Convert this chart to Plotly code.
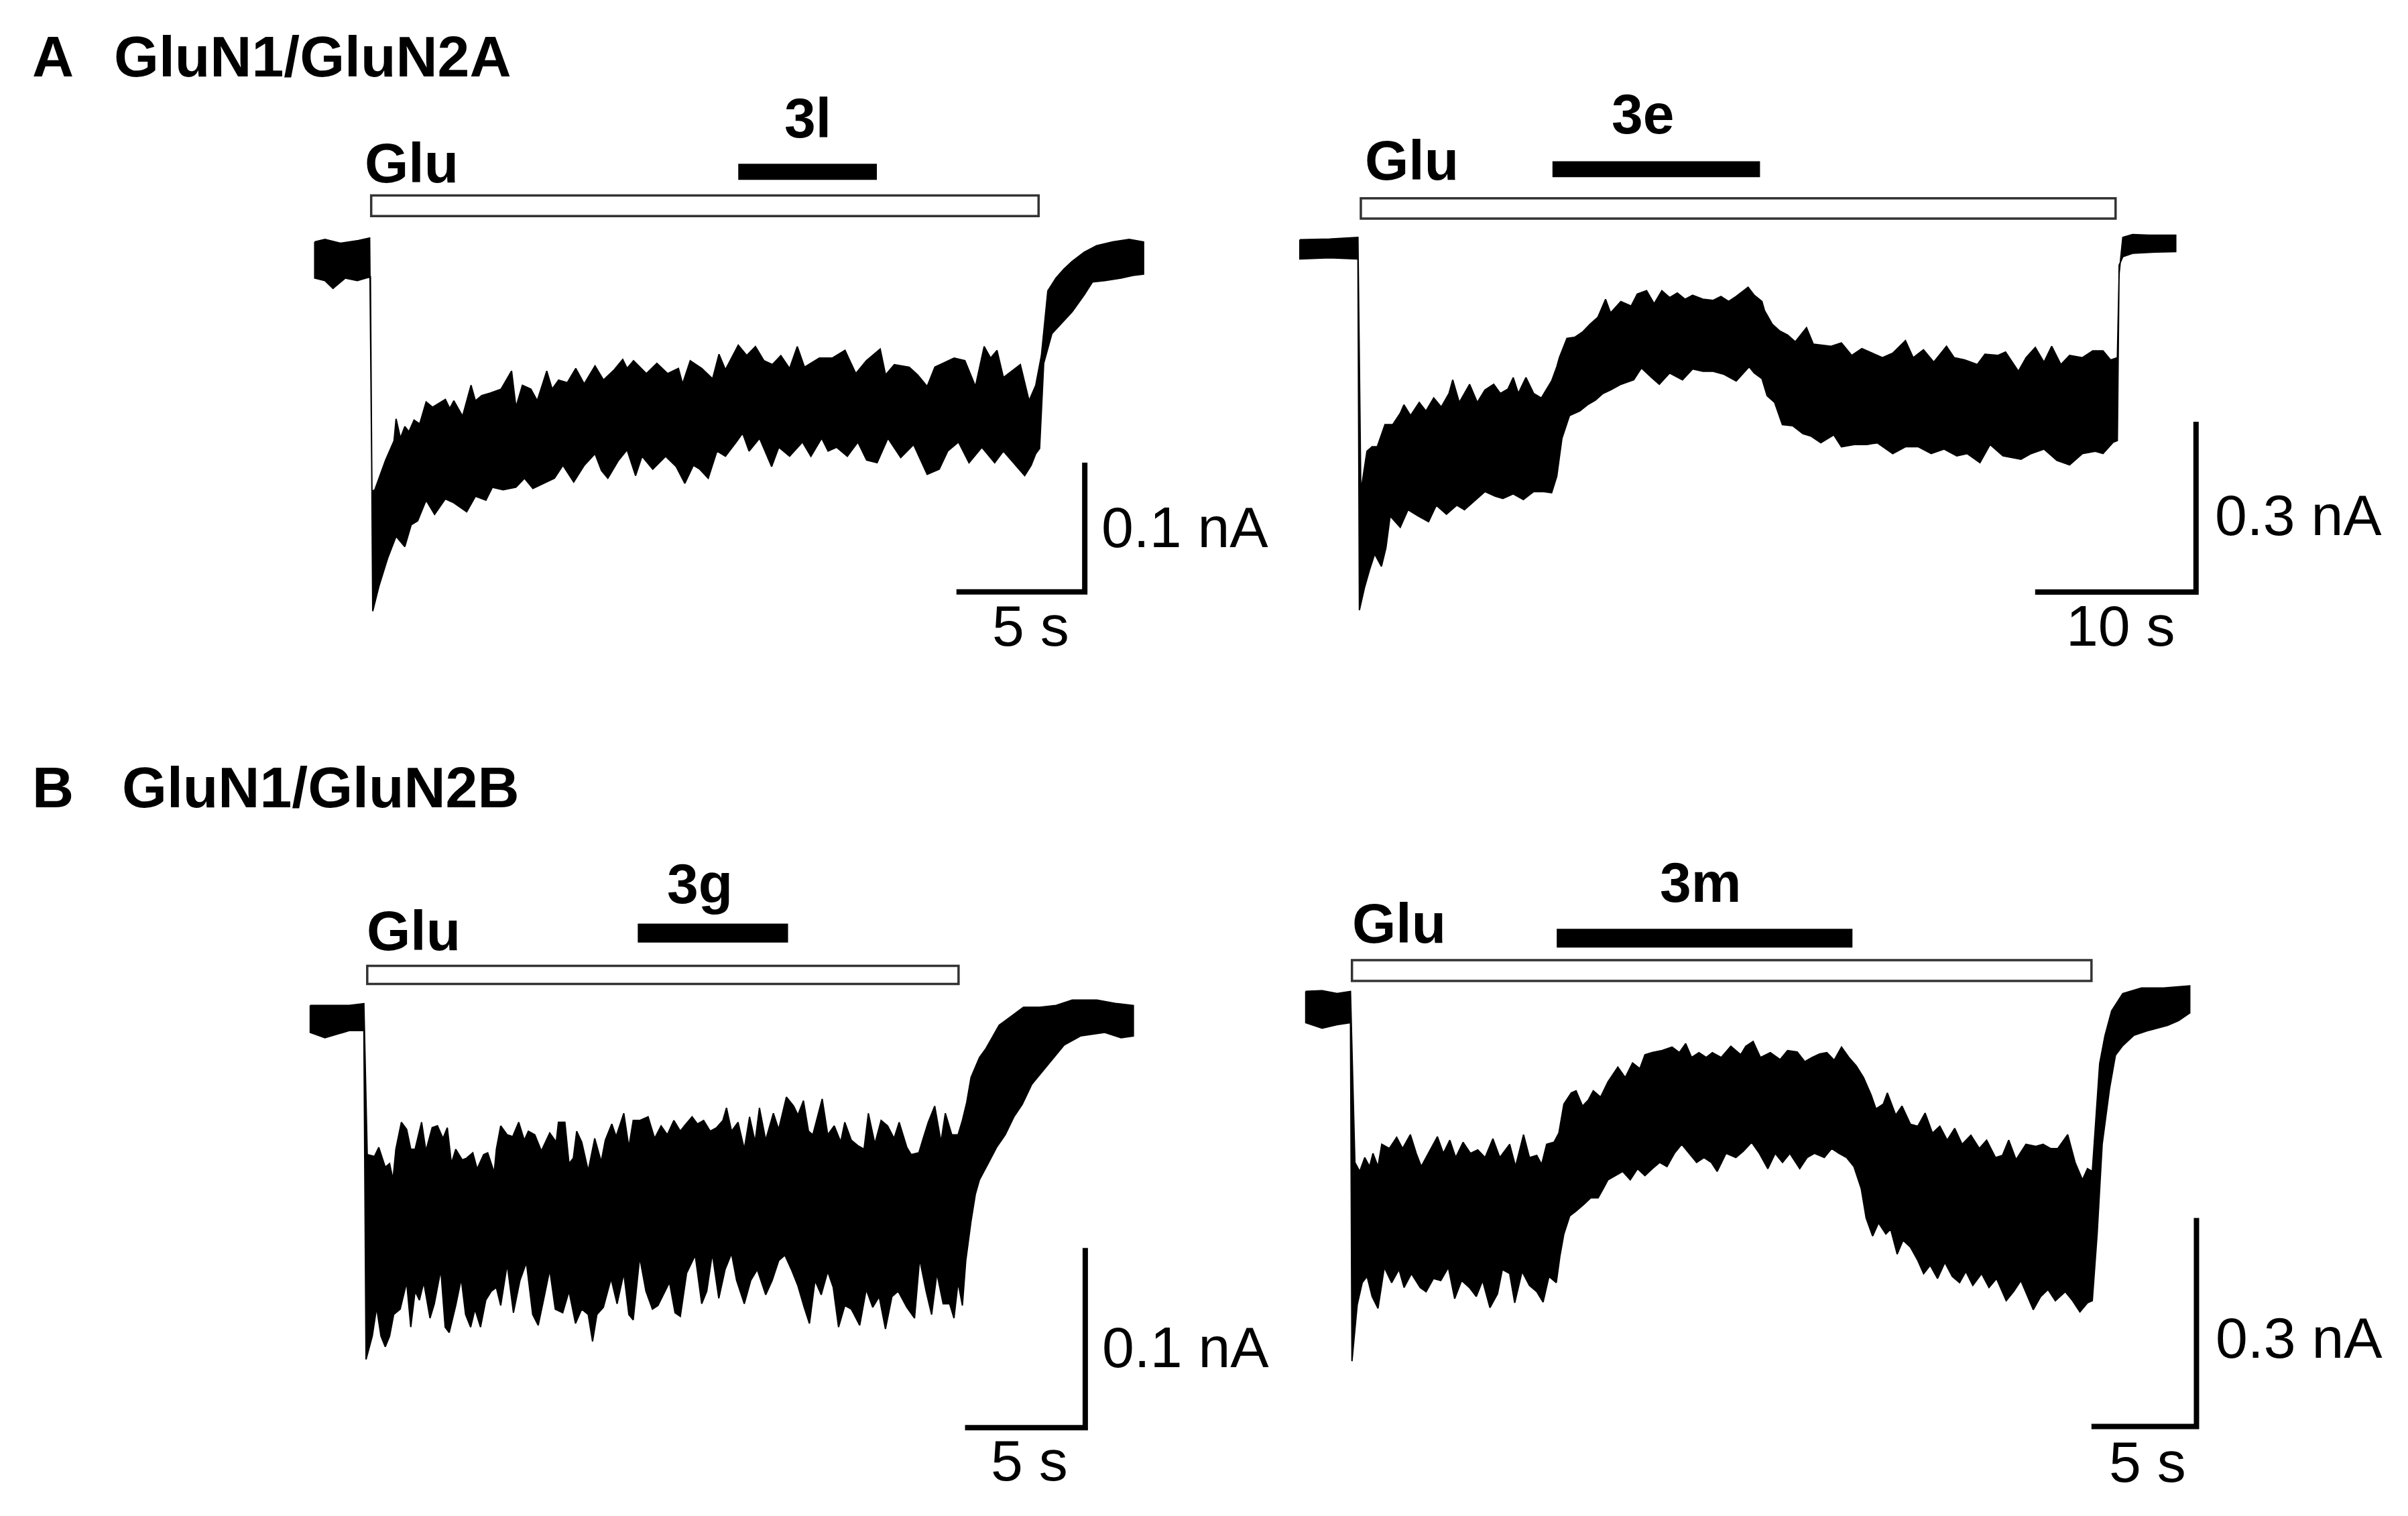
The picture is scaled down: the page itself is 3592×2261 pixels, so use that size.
import plotly.graph_objects as go

W, H = 3592, 2261          # browser window
PAGE_MARGIN = 8            # default <body> margin of the html page
FW, FH = W - 2 * PAGE_MARGIN, H - 2 * PAGE_MARGIN   # figure size that fits the window

# ---------------- data (time in s from glutamate onset, current in pA) ----------------
# Each trace is given as the upper and lower edge of the recorded (noisy) current band.
# Panel A left  (GluN1/GluN2A, compound 3l)
A1_UPPER = [(-2.2, 13), (-1.8, 15), (-1.2, 12), (-0.5, 14), (-0.06, 16),
            (0.03, -180), (0.14, -179), (0.56, -156), (0.89, -141), (0.97, -124), (1.14, -139),
            (1.31, -130), (1.47, -134), (1.67, -125), (1.89, -128), (2.14, -111), (2.39, -115),
            (2.89, -109), (3.06, -116), (3.22, -110), (3.56, -122), (3.89, -98), (4.06, -110),
            (4.31, -106), (4.64, -104), (5.06, -101), (5.47, -87), (5.64, -115), (5.89, -98),
            (6.22, -101), (6.47, -110), (6.84, -87), (7.05, -101), (7.30, -94), (7.64, -96),
            (7.97, -85), (8.30, -97), (8.72, -83), (9.05, -94), (9.47, -86), (9.80, -78),
            (9.97, -85), (10.22, -79), (10.72, -89), (11.13, -81), (11.55, -89), (11.97, -85),
            (12.13, -97), (12.43, -79), (12.88, -85), (13.30, -93), (13.55, -74), (13.80, -86),
            (14.30, -67), (14.63, -75), (14.97, -68), (15.30, -79), (15.63, -82), (15.96, -75),
            (16.30, -85), (16.60, -68), (16.88, -84), (17.46, -77), (17.96, -77), (18.46, -71),
            (18.88, -89), (19.29, -79), (19.83, -70), (20.04, -90), (20.38, -82), (20.96, -84),
            (21.29, -90), (21.66, -99), (21.96, -84), (22.71, -77), (23.13, -79), (23.54, -99),
            (23.88, -68), (24.13, -77), (24.38, -71), (24.63, -92), (25.29, -82), (25.63, -110),
            (25.89, -98), (26.11, -75), (26.36, -25), (26.68, -15), (26.99, -8), (27.31, -2),
            (27.78, 5), (28.26, 10), (28.89, 13), (29.53, 15), (30.09, 13)]
A1_LOWER = [(-2.2, -15), (-1.8, -17), (-1.49, -23), (-1.01, -15), (-0.54, -17), (-0.03, -14),
            (0.06, -273), (0.31, -253), (0.64, -232), (0.97, -215), (1.31, -223), (1.56, -206),
            (1.81, -203), (2.14, -187), (2.47, -198), (2.89, -186), (3.22, -189), (3.72, -196),
            (4.06, -184), (4.47, -187), (4.72, -177), (5.14, -179), (5.64, -177), (5.97, -170),
            (6.30, -178), (6.72, -174), (7.14, -170), (7.47, -160), (7.89, -173), (8.30, -160),
            (8.72, -151), (8.97, -164), (9.22, -170), (9.64, -156), (9.97, -148), (10.30, -168),
            (10.55, -153), (10.97, -163), (11.47, -153), (11.88, -161), (12.22, -174), (12.55, -160),
            (12.80, -163), (13.13, -170), (13.47, -149), (13.80, -153), (14.22, -142), (14.47, -135),
            (14.72, -149), (15.13, -139), (15.60, -161), (15.88, -146), (16.30, -153), (16.80, -142),
            (17.13, -153), (17.55, -139), (17.80, -149), (18.13, -146), (18.55, -153), (18.96, -142),
            (19.30, -156), (19.71, -158), (20.13, -139), (20.63, -154), (21.13, -144), (21.66, -167),
            (22.13, -163), (22.46, -149), (22.88, -142), (23.29, -158), (23.79, -146), (24.29, -158),
            (24.63, -149), (25.46, -168), (25.71, -160), (25.89, -151), (26.04, -147), (26.20, -81),
            (26.52, -58), (26.84, -51), (27.31, -41), (27.78, -28), (28.10, -18), (28.58, -17),
            (29.21, -15), (29.68, -13), (30.09, -12)]

# Panel A right (GluN1/GluN2A, compound 3e)
A2_UPPER = [(-3.70, 17), (-1.85, 18), (-0.09, 21),
            (0.09, -427), (0.47, -356), (0.79, -348), (1.11, -348), (1.59, -309), (2.07, -309),
            (2.54, -289), (2.77, -274), (3.18, -293), (3.72, -270), (4.14, -285), (4.62, -262),
            (5.09, -278), (5.57, -254), (5.80, -230), (6.21, -270), (6.85, -238), (7.33, -270),
            (7.80, -248), (8.35, -238), (8.76, -254), (9.24, -246), (9.56, -226), (9.88, -254),
            (10.35, -226), (10.83, -254), (11.31, -262), (11.95, -232), (12.27, -207), (12.43, -191),
            (12.90, -157), (13.38, -155), (13.86, -146), (14.34, -132), (14.82, -120), (15.30, -88),
            (15.61, -112), (16.25, -92), (16.89, -100), (17.27, -79), (17.85, -73), (18.32, -96),
            (18.80, -73), (19.28, -85), (19.76, -77), (20.24, -88), (20.71, -81), (21.35, -88),
            (21.99, -90), (22.47, -83), (22.95, -92), (23.42, -83), (24.16, -67), (24.54, -81),
            (25.02, -92), (25.18, -108), (25.66, -132), (26.13, -144), (26.61, -151), (27.09, -163),
            (27.79, -138), (28.21, -167), (28.68, -169), (29.32, -171), (29.96, -165), (30.60, -187),
            (31.23, -175), (31.87, -183), (32.51, -191), (33.15, -183), (33.94, -161), (34.42, -191),
            (35.06, -177), (35.70, -199), (36.49, -171), (36.97, -191), (37.61, -195), (38.41, -203),
            (38.88, -185), (39.68, -187), (40.16, -181), (40.96, -215), (41.44, -191), (42.01, -173),
            (42.55, -199), (43.03, -171), (43.60, -203), (44.14, -187), (44.94, -191), (45.58, -179),
            (46.22, -179), (46.69, -195), (47.11, -191), (47.22, -43), (47.45, 21), (48.06, 26),
            (49.07, 25), (50.74, 25)]
A2_LOWER = [(-3.70, -17), (-1.85, -15), (-0.09, -17),
            (0.0, -636), (0.31, -597), (0.63, -565), (0.95, -537), (1.37, -559), (1.65, -526),
            (1.91, -470), (2.54, -490), (3.02, -459), (3.66, -470), (4.30, -480), (4.78, -451),
            (5.41, -467), (6.05, -451), (6.53, -459), (7.17, -443), (7.80, -427), (8.44, -435),
            (8.92, -439), (9.56, -431), (10.19, -441), (10.83, -427), (11.47, -427), (11.95, -429),
            (12.27, -400), (12.59, -333), (13.06, -293), (13.70, -285), (14.18, -274), (14.66, -266),
            (15.14, -254), (15.61, -248), (16.25, -238), (17.05, -230), (17.53, -209), (18.16, -226),
            (18.64, -238), (19.28, -218), (20.08, -230), (20.71, -211), (21.35, -215), (21.99, -215),
            (22.63, -220), (23.42, -232), (24.22, -207), (24.54, -218), (25.02, -228), (25.34, -258),
            (25.81, -270), (26.29, -309), (26.93, -311), (27.57, -325), (28.05, -329), (28.68, -341),
            (29.48, -327), (29.96, -348), (30.76, -344), (31.55, -344), (32.19, -341), (33.15, -360),
            (33.94, -348), (34.74, -348), (35.54, -360), (36.33, -352), (37.13, -364), (37.77, -360),
            (38.57, -376), (39.20, -344), (40.00, -364), (41.12, -370), (41.75, -360), (42.55, -352),
            (43.35, -372), (44.14, -380), (44.94, -360), (45.74, -356), (46.22, -360), (46.85, -340),
            (47.11, -337), (47.22, -28), (47.45, -13), (48.06, -7), (49.44, -5), (50.74, -4)]

# Panel B left (GluN1/GluN2B, compound 3g)
B1_UPPER = [(-2.30, 7), (-1.69, 7), (-0.68, 7), (-0.07, 8),
            (0.07, -76), (0.37, -77), (0.55, -72), (0.82, -83), (1.00, -81), (1.14, -90), (1.26, -73),
            (1.49, -58), (1.71, -62), (1.88, -73), (2.06, -73), (2.33, -58), (2.51, -74), (2.77, -61),
            (2.99, -60), (3.22, -67), (3.40, -61), (3.57, -81), (3.75, -73), (4.02, -79), (4.20, -78),
            (4.46, -75), (4.64, -84), (4.91, -76), (5.08, -75), (5.35, -86), (5.44, -73), (5.62, -60),
            (5.89, -65), (6.12, -66), (6.37, -58), (6.60, -68), (6.77, -63), (7.04, -65), (7.31, -74),
            (7.66, -64), (7.93, -69), (8.02, -58), (8.29, -58), (8.46, -81), (8.64, -78), (8.78, -63),
            (8.99, -69), (9.26, -85), (9.53, -67), (9.80, -80), (9.97, -68), (10.24, -59), (10.42, -66),
            (10.74, -53), (10.95, -72), (11.13, -57), (11.40, -57), (11.75, -55), (12.02, -67),
            (12.29, -60), (12.55, -65), (12.82, -57), (13.09, -63), (13.26, -60), (13.58, -55),
            (13.80, -59), (14.06, -57), (14.33, -63), (14.60, -61), (14.86, -57), (15.01, -50),
            (15.22, -63), (15.49, -58), (15.75, -73), (15.97, -55), (16.20, -69), (16.38, -50),
            (16.64, -68), (16.96, -53), (17.18, -62), (17.50, -44), (17.80, -49), (17.98, -54),
            (18.21, -46), (18.42, -63), (18.60, -65), (18.99, -45), (19.22, -65), (19.49, -60),
            (19.76, -69), (19.93, -58), (20.20, -68), (20.47, -71), (20.73, -73), (20.91, -53),
            (21.18, -70), (21.44, -57), (21.71, -60), (21.98, -67), (22.19, -58), (22.51, -72),
            (22.69, -76), (23.01, -75), (23.19, -67), (23.40, -58), (23.67, -49), (23.93, -69),
            (24.11, -53), (24.38, -65), (24.64, -65), (24.82, -57), (25.00, -47), (25.18, -33),
            (25.53, -22), (25.80, -17), (26.01, -12), (26.35, -4), (26.86, 1), (27.36, 6), (28.04, 6),
            (28.72, 7), (29.39, 10), (30.41, 10), (31.25, 8), (31.93, 7)]
B1_LOWER = [(-2.30, -8), (-1.69, -11), (-0.68, -7), (-0.07, -7),
            (0.02, -190), (0.28, -177), (0.46, -161), (0.64, -177), (0.82, -183), (1.00, -177),
            (1.17, -165), (1.44, -162), (1.71, -147), (1.88, -172), (2.06, -152), (2.24, -157),
            (2.42, -147), (2.68, -167), (2.86, -159), (3.13, -140), (3.31, -172), (3.48, -175),
            (3.75, -160), (3.98, -145), (4.16, -165), (4.37, -172), (4.55, -162), (4.78, -172),
            (5.00, -157), (5.23, -152), (5.44, -150), (5.62, -160), (5.89, -137), (6.15, -164),
            (6.42, -146), (6.69, -136), (6.95, -165), (7.18, -171), (7.40, -157), (7.66, -140),
            (7.89, -162), (8.20, -164), (8.46, -152), (8.73, -170), (8.99, -162), (9.26, -165),
            (9.44, -180), (9.62, -165), (9.89, -161), (10.21, -145), (10.46, -159), (10.74, -142),
            (10.95, -165), (11.13, -168), (11.40, -133), (11.66, -152), (11.93, -162), (12.16, -160),
            (12.37, -154), (12.64, -147), (12.87, -164), (13.09, -166), (13.35, -142), (13.71, -132),
            (13.98, -159), (14.19, -152), (14.42, -131), (14.69, -156), (14.95, -140), (15.22, -131),
            (15.43, -146), (15.75, -159), (16.02, -146), (16.29, -140), (16.64, -154), (16.91, -146),
            (17.18, -135), (17.44, -132), (17.71, -140), (17.98, -149), (18.24, -161), (18.46, -170),
            (18.69, -146), (18.95, -154), (19.22, -141), (19.45, -150), (19.67, -172), (19.93, -160),
            (20.20, -162), (20.55, -171), (20.82, -151), (21.09, -161), (21.36, -155), (21.62, -173),
            (21.89, -155), (22.15, -152), (22.51, -161), (22.83, -167), (23.04, -134), (23.31, -152),
            (23.54, -165), (23.76, -142), (24.02, -159), (24.29, -159), (24.47, -167), (24.64, -147),
            (24.82, -160), (24.96, -135), (25.18, -113), (25.36, -98), (25.53, -90), (25.89, -81),
            (26.24, -72), (26.60, -65), (26.96, -55), (27.31, -48), (27.70, -37), (28.38, -26),
            (29.05, -15), (29.73, -10), (30.74, -8), (31.42, -11), (31.93, -10)]

# Panel B right (GluN1/GluN2B, compound 3m)
B2_UPPER = [(-2.20, 24), (-1.42, 25), (-0.71, 21), (-0.07, 24),
            (0.14, -222), (0.37, -235), (0.61, -215), (0.84, -228), (1.00, -209), (1.24, -228),
            (1.42, -196), (1.78, -202), (2.13, -186), (2.41, -202), (2.78, -182), (3.06, -209),
            (3.30, -228), (3.65, -209), (4.07, -185), (4.35, -209), (4.66, -190), (4.94, -215),
            (5.29, -193), (5.64, -209), (5.99, -204), (6.34, -215), (6.71, -188), (7.04, -215),
            (7.51, -196), (7.79, -228), (8.17, -182), (8.45, -215), (8.80, -212), (9.03, -225),
            (9.27, -196), (9.62, -193), (9.85, -180), (10.09, -138), (10.44, -122), (10.67, -119),
            (10.98, -141), (11.26, -132), (11.49, -119), (11.84, -128), (12.19, -106), (12.66, -85),
            (13.01, -100), (13.36, -79), (13.71, -87), (13.95, -67), (14.30, -64), (14.77, -61),
            (15.24, -56), (15.59, -64), (15.89, -51), (16.17, -71), (16.52, -64), (16.87, -71),
            (17.16, -64), (17.58, -71), (18.04, -55), (18.51, -67), (18.75, -55), (19.10, -48),
            (19.45, -71), (19.92, -64), (20.39, -74), (20.74, -61), (21.20, -63), (21.56, -77),
            (21.91, -71), (22.26, -66), (22.61, -64), (22.96, -75), (23.31, -56), (23.66, -71),
            (24.01, -83), (24.36, -100), (24.72, -125), (24.95, -145), (25.30, -138), (25.49, -122),
            (25.89, -154), (26.19, -141), (26.59, -167), (26.94, -170), (27.29, -151), (27.64, -180),
            (27.99, -170), (28.34, -190), (28.70, -173), (29.05, -196), (29.47, -183), (29.87, -202),
            (30.22, -190), (30.64, -215), (30.97, -212), (31.27, -190), (31.62, -218), (32.09, -196),
            (32.56, -199), (32.91, -196), (33.26, -202), (33.61, -202), (34.08, -182), (34.43, -222),
            (34.78, -247), (35.02, -231), (35.25, -235), (35.60, -80), (35.85, -40), (36.17, -4),
            (36.70, 21), (37.59, 29), (38.65, 29), (39.89, 32)]
B2_LOWER = [(-2.20, -21), (-1.42, -29), (-0.71, -24), (-0.07, -21),
            (0.0, -508), (0.25, -427), (0.49, -395), (0.72, -386), (0.96, -415), (1.24, -432),
            (1.54, -373), (1.89, -395), (2.24, -376), (2.48, -402), (2.83, -382), (3.25, -402),
            (3.53, -408), (3.88, -389), (4.23, -392), (4.59, -373), (4.89, -418), (5.22, -392),
            (5.59, -402), (5.92, -415), (6.22, -392), (6.57, -431), (6.93, -411), (7.16, -376),
            (7.51, -382), (7.75, -424), (8.10, -379), (8.45, -399), (8.80, -408), (9.10, -423),
            (9.38, -386), (9.73, -395), (9.90, -357), (10.09, -325), (10.37, -299), (10.67, -292),
            (11.02, -283), (11.37, -273), (11.72, -273), (11.96, -260), (12.19, -247), (12.54, -241),
            (12.89, -235), (13.25, -247), (13.60, -231), (13.95, -241), (14.30, -231), (14.65, -222),
            (15.00, -228), (15.35, -209), (15.70, -196), (16.06, -209), (16.41, -222), (16.76, -215),
            (17.11, -222), (17.39, -235), (17.81, -209), (18.28, -215), (18.63, -206), (19.03, -193),
            (19.40, -209), (19.80, -231), (20.15, -209), (20.50, -222), (20.85, -209), (21.32, -231),
            (21.67, -215), (22.02, -209), (22.49, -215), (22.84, -202), (23.19, -209), (23.55, -215),
            (23.90, -228), (24.25, -260), (24.48, -302), (24.79, -328), (25.07, -309), (25.42, -325),
            (25.65, -318), (25.96, -354), (26.24, -334), (26.59, -344), (26.94, -363), (27.22, -382),
            (27.53, -370), (27.88, -389), (28.23, -366), (28.58, -386), (28.93, -395), (29.23, -379),
            (29.56, -399), (29.98, -382), (30.33, -402), (30.69, -389), (31.15, -421), (31.50, -408),
            (31.85, -392), (32.44, -434), (32.79, -415), (33.14, -405), (33.49, -421), (33.96, -408),
            (34.31, -421), (34.66, -437), (35.02, -424), (35.25, -421), (35.48, -325), (35.72, -196),
            (36.07, -116), (36.35, -68), (36.70, -54), (37.23, -39), (37.94, -32), (38.83, -25),
            (39.36, -18), (39.89, -7)]

PANELS = ["A1", "A2", "B1", "B2"]
GLU_ON = [0.0, 0.09, 0.07, 0.0]          # s
GLU_OFF = [26.0, 47.0, 24.66, 35.21]     # s
DRUG_NAMES = ["3l", "3e", "3g", "3m"]
DRUG_ON = [14.3, 12.0, 11.32, 9.75]      # s
DRUG_OFF = [19.7, 24.9, 17.57, 23.83]    # s
SCALE_T = [5, 10, 5, 5]                  # s
SCALE_I = [100, 300, 100, 300]           # pA
SCALE_T_LABEL = ["5 s", "10 s", "5 s", "5 s"]
SCALE_I_LABEL = ["0.1 nA", "0.3 nA", "0.1 nA", "0.3 nA"]
SECTION_LETTERS = ["A", "B"]
SECTION_TITLES = ["GluN1/GluN2A", "GluN1/GluN2B"]

TRACES = {"A1": (A1_UPPER, A1_LOWER), "A2": (A2_UPPER, A2_LOWER),
          "B1": (B1_UPPER, B1_LOWER), "B2": (B2_UPPER, B2_LOWER)}

# ---------------- layout geometry (window pixel placement of each panel) ----------------
GEOM = {
    "A1": dict(px0=553.7, py0=385.8, sx=38.29, sy=1.926),
    "A2": dict(px0=2027.8, py0=371.8, sx=24.0, sy=0.8463),
    "B1": dict(px0=545.3, py0=1518.3, sx=35.87, sy=2.680),
    "B2": dict(px0=2016.7, py0=1503.5, sx=31.33, sy=1.0366),
}
DECOR = {
    "A1": dict(glu_y=(33, 49), drug_y=(61, 73.5), glu_lab=(-0.3, 73), drug_lab=(17.0, 108),
               corner=(27.8, -258), ilab=(28.4, -209), tlab=(25.7, -285)),
    "A2": dict(glu_y=(54, 90), drug_y=(127, 155), glu_lab=(0.25, 155), drug_lab=(17.6, 236),
               corner=(52.0, -604), ilab=(53.1, -470), tlab=(47.3, -665)),
    "B1": dict(glu_y=(19, 29), drug_y=(42, 52.5), glu_lab=(0.0, 48), drug_lab=(13.9, 74),
               corner=(29.93, -228), ilab=(30.57, -184), tlab=(27.6, -247)),
    "B2": dict(glu_y=(39, 69), drug_y=(87, 114), glu_lab=(-0.05, 120), drug_lab=(16.6, 179),
               corner=(40.21, -602), ilab=(41.06, -476), tlab=(37.87, -655)),
}

FONT = "Liberation Sans, Arial, sans-serif"
M = PAGE_MARGIN
fig = go.Figure()
layout_axes = {}

for k, p in enumerate(PANELS):
    g = GEOM[p]
    d = DECOR[p]
    xa = "x" if k == 0 else f"x{k+1}"
    ya = "y" if k == 0 else f"y{k+1}"
    xname = "xaxis" if k == 0 else f"xaxis{k+1}"
    yname = "yaxis" if k == 0 else f"yaxis{k+1}"
    layout_axes[xname] = dict(domain=[0, 1],
                              range=[(M - g["px0"]) / g["sx"], (W - M - g["px0"]) / g["sx"]],
                              visible=False, anchor=ya, fixedrange=True)
    layout_axes[yname] = dict(domain=[0, 1],
                              range=[(g["py0"] - (H - M)) / g["sy"], (g["py0"] - M) / g["sy"]],
                              visible=False, anchor=xa, fixedrange=True)

    upper, lower = TRACES[p]
    xs = [t for t, _ in upper] + [t for t, _ in reversed(lower)]
    ys = [i for _, i in upper] + [i for _, i in reversed(lower)]
    xs.append(xs[0]); ys.append(ys[0])
    fig.add_trace(go.Scatter(x=xs, y=ys, xaxis=xa, yaxis=ya, mode="lines", fill="toself",
                             fillcolor="black", line=dict(color="black", width=2),
                             hoverinfo="skip", showlegend=False))

    fig.add_shape(type="rect", xref=xa, yref=ya, x0=GLU_ON[k], x1=GLU_OFF[k],
                  y0=d["glu_y"][0], y1=d["glu_y"][1], line=dict(color="#333333", width=3.5),
                  fillcolor="white")
    fig.add_shape(type="rect", xref=xa, yref=ya, x0=DRUG_ON[k], x1=DRUG_OFF[k],
                  y0=d["drug_y"][0], y1=d["drug_y"][1], line=dict(color="black", width=0),
                  fillcolor="black")

    ct, ci = d["corner"]
    fig.add_trace(go.Scatter(x=[ct - SCALE_T[k], ct, ct], y=[ci, ci, ci + SCALE_I[k]],
                             xaxis=xa, yaxis=ya, mode="lines",
                             line=dict(color="black", width=8), hoverinfo="skip", showlegend=False))

    fig.add_annotation(xref=xa, yref=ya, x=d["glu_lab"][0], y=d["glu_lab"][1], text="<b>Glu</b>",
                       showarrow=False, xanchor="left", yanchor="middle", yshift=2,
                       font=dict(family=FONT, size=84, color="black"))
    fig.add_annotation(xref=xa, yref=ya, x=d["drug_lab"][0], y=d["drug_lab"][1],
                       text=f"<b>{DRUG_NAMES[k]}</b>", showarrow=False, xanchor="center",
                       yanchor="middle", yshift=2, font=dict(family=FONT, size=84, color="black"))
    fig.add_annotation(xref=xa, yref=ya, x=d["ilab"][0], y=d["ilab"][1], text=SCALE_I_LABEL[k],
                       showarrow=False, xanchor="left", yanchor="middle", yshift=2,
                       font=dict(family=FONT, size=86, color="black"))
    fig.add_annotation(xref=xa, yref=ya, x=d["tlab"][0], y=d["tlab"][1], text=SCALE_T_LABEL[k],
                       showarrow=False, xanchor="center", yanchor="middle", yshift=2,
                       font=dict(family=FONT, size=86, color="black"))

TITLE_POS = [dict(letter_x=46, title_x=168, y=84), dict(letter_x=46, title_x=180, y=1174)]
for s in range(2):
    tp = TITLE_POS[s]
    for xpos, txt in ((tp["letter_x"], SECTION_LETTERS[s]), (tp["title_x"], SECTION_TITLES[s])):
        fig.add_annotation(xref="paper", yref="paper", x=(xpos - M) / FW, y=1 - (tp["y"] - M) / FH,
                           text=f"<b>{txt}</b>", showarrow=False, xanchor="left",
                           yanchor="middle", font=dict(family=FONT, size=86, color="black"))

fig.update_layout(width=FW, height=FH, margin=dict(l=0, r=0, t=0, b=0, pad=0),
                  paper_bgcolor="white", plot_bgcolor="rgba(0,0,0,0)", showlegend=False,
                  **layout_axes)
fig.write_html("out.html", config=dict(displayModeBar=False))
